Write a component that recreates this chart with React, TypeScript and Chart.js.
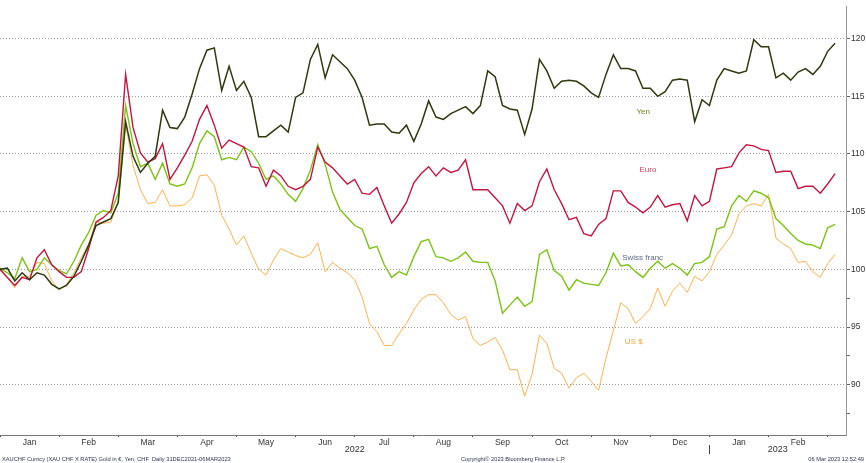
import { useEffect, useRef } from 'react';
import { Chart, registerables } from 'chart.js';
import type { Plugin } from 'chart.js';

Chart.register(...registerables);

// x is measured in months from 1 Jan 2022, one sample every eighth of a month
const STEP = 0.125;
const X_MAX = 14.31;
const Y_MIN = 85.64;
const Y_MAX = 122.82;

const MONTHS = ['Jan', 'Feb', 'Mar', 'Apr', 'May', 'Jun', 'Jul', 'Aug', 'Sep', 'Oct', 'Nov', 'Dec', 'Jan', 'Feb'];
const MONTH_TICKS = MONTHS.map((_, i) => i + 0.5);
const YEARS = [
  { label: '2022', start: 0, end: 12 },
  { label: '2023', start: 12, end: X_MAX },
];
const Y_TICKS = [87.5, 90, 92.5, 95, 97.5, 100, 105, 110, 115, 120];

const YEN = [
  100.0, 100.1, 99.0, 99.7, 99.1, 99.7, 99.5, 98.7, 98.3, 98.6, 99.4, 100.7, 102.1, 103.8, 104.1, 104.4,
  105.8, 112.8, 109.8, 108.4, 109.2, 109.8, 113.8, 112.3, 112.2, 113.2, 115.2, 117.4, 119.0, 119.2, 115.5,
  117.6, 115.5, 116.3, 114.9, 111.5, 111.5, 112.0, 112.5, 111.9, 114.9, 115.3, 118.2, 119.5, 116.6, 118.6,
  118.0, 117.4, 116.4, 114.9, 112.5, 112.6, 112.6, 111.9, 111.8, 112.5, 111.1, 112.6, 114.6, 113.2, 113.0,
  113.5, 113.8, 114.1, 113.5, 114.2, 117.2, 116.7, 114.2, 113.9, 113.8, 111.7, 113.9, 118.2, 117.2, 115.7,
  116.3, 116.4, 116.3, 115.9, 115.3, 114.9, 116.9, 118.6, 117.4, 117.4, 117.2, 115.7, 115.7, 115.0, 115.4,
  116.4, 116.5, 116.4, 112.8, 114.7, 114.2, 116.4, 117.4, 117.2, 117.0, 117.2, 119.9, 119.3, 119.3, 116.6,
  117.0, 116.4, 117.1, 117.4, 116.9, 117.6, 118.9, 119.6,
];

const EURO = [
  100.0, 99.3, 98.6, 99.3, 99.1, 101.0, 101.7, 100.4, 99.8, 99.3, 99.3, 99.8, 101.8, 104.1, 104.5, 105.1,
  108.1, 116.9, 112.3, 110.1, 109.3, 109.6, 110.9, 107.8, 108.8, 109.9, 111.1, 113.0, 114.2, 112.5, 110.5,
  111.2, 110.9, 110.6, 108.9, 108.8, 107.2, 108.6, 108.1, 107.2, 106.9, 107.2, 107.8, 110.6, 109.3, 108.8,
  108.1, 107.4, 107.8, 106.6, 106.5, 107.1, 105.5, 104.0, 104.8, 105.8, 107.5, 108.3, 108.9, 108.1, 108.8,
  108.4, 108.6, 109.5, 106.9, 106.9, 106.9, 106.2, 105.5, 104.0, 105.7, 105.1, 105.5, 107.6, 108.7, 106.9,
  105.7, 104.3, 104.5, 103.1, 102.9, 103.9, 104.4, 106.8, 106.8, 105.8, 105.4, 104.9, 105.4, 106.4, 105.4,
  105.6, 105.7, 104.2, 106.4, 105.5, 105.9, 108.7, 108.8, 108.9, 110.1, 110.8, 110.7, 110.4, 110.3, 108.4,
  108.5, 108.5, 107.0, 107.2, 107.2, 106.6, 107.4, 108.3,
];

const SWISS_FRANC = [
  100.1, 99.7, 99.2, 101.0, 99.8, 100.0, 101.0, 100.4, 99.9, 99.6, 100.7, 102.1, 103.2, 104.7, 105.1, 104.9,
  106.6, 114.2, 110.9, 108.9, 109.2, 107.8, 109.2, 107.4, 107.2, 107.4, 108.8, 110.9, 112.0, 111.5, 109.5,
  109.7, 109.5, 110.6, 110.2, 109.2, 107.8, 108.1, 107.4, 106.5, 105.9, 107.0, 108.6, 110.8, 109.1, 106.7,
  105.2, 104.5, 103.8, 103.5, 101.8, 102.0, 100.4, 99.3, 99.8, 99.5, 101.1, 102.4, 102.6, 101.1, 101.0,
  100.7, 101.0, 101.5, 100.7, 100.6, 100.6, 99.0, 96.2, 96.9, 97.6, 96.8, 97.2, 101.3, 101.7, 99.9,
  99.4, 98.2, 99.1, 98.8, 98.7, 98.6, 99.7, 101.4, 100.3, 100.4, 99.8, 99.3, 100.1, 100.7, 100.1,
  100.5, 100.1, 99.5, 100.5, 100.6, 101.1, 103.5, 103.7, 105.5, 106.4, 105.9, 106.8, 106.6, 106.2, 104.4,
  103.8, 103.1, 102.5, 102.2, 102.1, 101.8, 103.6, 103.9,
];

const US_DOLLAR = [
  100.0, 99.3, 98.4, 99.4, 99.4, 100.6, 100.5, 99.0, 98.2, 98.7, 99.7, 101.0, 102.2, 104.1, 104.0, 104.1,
  105.9, 112.6, 109.0, 106.9, 105.7, 105.8, 106.9, 105.5, 105.5, 105.6, 106.2, 108.1, 108.2, 107.3, 104.7,
  103.5, 102.1, 102.9, 101.4, 100.0, 99.5, 100.8, 101.8, 101.5, 101.2, 101.0, 101.3, 102.3, 99.8, 100.6,
  100.1, 99.7, 99.1, 97.6, 95.3, 94.6, 93.4, 93.4, 94.4, 95.3, 96.5, 97.4, 97.8, 97.8, 97.1,
  96.1, 95.6, 95.9, 94.0, 93.4, 93.7, 94.1, 93.0, 91.3, 91.3, 89.0, 90.9, 94.3, 93.6, 91.4,
  91.0, 89.7, 90.6, 91.0, 90.3, 89.5, 92.3, 94.7, 97.1, 96.6, 95.3, 95.9, 96.6, 98.4, 96.8,
  98.1, 98.8, 98.0, 99.4, 99.0, 99.8, 101.3, 102.1, 103.0, 104.8, 105.5, 105.7, 105.5, 106.5, 102.7,
  102.2, 101.8, 100.6, 100.7, 99.8, 99.3, 100.5, 101.3,
];

// in-chart series names, anchored in data units
const SERIES_LABELS = [
  { text: 'Yen', x: 10.88, y: 113.7, color: '#7c7f1c' },
  { text: 'Euro', x: 10.96, y: 108.66, color: '#d4405c' },
  { text: 'Swiss franc', x: 10.87, y: 101.03, color: '#5d6a86' },
  { text: 'US $', x: 10.72, y: 93.76, color: '#f4a43a' },
];

const FONT = '"Liberation Sans", Arial, sans-serif';

const toPoints = (values: number[]) => values.map((y, i) => ({ x: i * STEP, y }));

const annotations: Plugin<'line'> = {
  id: 'annotations',
  afterDraw(chart) {
    const { ctx, scales, chartArea } = chart;
    const x = scales.x;
    const y = scales.y;
    ctx.save();
    ctx.textAlign = 'center';
    ctx.textBaseline = 'middle';
    ctx.font = `8px ${FONT}`;
    SERIES_LABELS.forEach((l) => {
      ctx.fillStyle = l.color;
      ctx.fillText(l.text, x.getPixelForValue(l.x), y.getPixelForValue(l.y));
    });

    // year row under the months
    ctx.font = `9px ${FONT}`;
    ctx.fillStyle = '#333';
    YEARS.forEach((yr, i) => {
      const mid = (x.getPixelForValue(yr.start) + x.getPixelForValue(yr.end)) / 2;
      ctx.fillText(yr.label, mid, chartArea.bottom + 15);
      if (i > 0) {
        const sep = Math.round(x.getPixelForValue(yr.start)) + 0.5;
        ctx.strokeStyle = '#444';
        ctx.lineWidth = 1;
        ctx.beginPath();
        ctx.moveTo(sep, chartArea.bottom + 10);
        ctx.lineTo(sep, chartArea.bottom + 19);
        ctx.stroke();
      }
    });
    ctx.restore();
  },
};

export default function App() {
  const canvasRef = useRef<HTMLCanvasElement>(null);

  useEffect(() => {
    if (!canvasRef.current) return;
    document.body.style.margin = '0';

    const chart = new Chart(canvasRef.current, {
      type: 'line',
      data: {
        datasets: [
          { label: 'Yen', data: toPoints(YEN), borderColor: '#2c3a0e', borderWidth: 1.5 },
          { label: 'Euro', data: toPoints(EURO), borderColor: '#c5163f', borderWidth: 1.4 },
          { label: 'Swiss franc', data: toPoints(SWISS_FRANC), borderColor: '#7cc414', borderWidth: 1.4 },
          { label: 'US $', data: toPoints(US_DOLLAR), borderColor: '#ffb24d', borderWidth: 1 },
        ],
      },
      options: {
        responsive: false,
        animation: false,
        events: [],
        elements: {
          point: { radius: 0 },
          line: { tension: 0 },
        },
        layout: { padding: 0 },
        plugins: {
          legend: { display: false },
          tooltip: { enabled: false },
        },
        scales: {
          x: {
            type: 'linear',
            min: 0,
            max: X_MAX,
            afterBuildTicks: (scale) => {
              scale.ticks = MONTH_TICKS.map((value) => ({ value }));
            },
            afterFit: (scale) => {
              scale.height = 28;
            },
            ticks: {
              callback: (_value, index) => MONTHS[index],
              color: '#333',
              font: { family: FONT, size: 8.5 },
              padding: 1,
              maxRotation: 0,
              autoSkip: false,
            },
            grid: {
              offset: true,
              drawOnChartArea: false,
              tickLength: 2,
              color: '#444',
            },
            border: { color: '#777' },
          },
          y: {
            type: 'linear',
            position: 'right',
            min: Y_MIN,
            max: Y_MAX,
            afterBuildTicks: (scale) => {
              scale.ticks = Y_TICKS.map((value) => ({ value }));
            },
            afterFit: (scale) => {
              scale.width = 20;
            },
            ticks: {
              callback: (value) => (Number(value) % 5 === 0 ? String(value) : ''),
              color: '#333',
              font: { family: FONT, size: 8.5 },
              padding: 1,
            },
            grid: {
              color: (ctx) => (ctx.tick && ctx.tick.value % 5 === 0 ? '#9a9a9a' : 'rgba(0,0,0,0)'),
              tickColor: '#666',
              tickLength: 4,
              lineWidth: 1,
            },
            border: { color: '#999', dash: [1, 2] },
          },
        },
      },
      plugins: [annotations],
    });

    return () => chart.destroy();
  }, []);

  const footer: React.CSSProperties = {
    position: 'absolute',
    top: 456,
    fontFamily: FONT,
    fontSize: 5.7,
    lineHeight: '7px',
    whiteSpace: 'nowrap',
    color: '#2b3550',
  };

  return (
    <div style={{ position: 'fixed', left: 0, top: 0, width: 866, height: 463, background: '#fff', overflow: 'hidden' }}>
      <canvas ref={canvasRef} width={866} height={463} style={{ display: 'block' }} />
      <span style={{ ...footer, left: 2 }}>
        XAUCHF Curncy (XAU CHF X RATE) Gold in €, Yen, CHF&nbsp; Daily 31DEC2021-06MAR2023
      </span>
      <span style={{ ...footer, left: 461 }}>Copyright© 2023 Bloomberg Finance L.P.</span>
      <span style={{ ...footer, right: 2 }}>06 Mar 2023 12:52:49</span>
    </div>
  );
}
